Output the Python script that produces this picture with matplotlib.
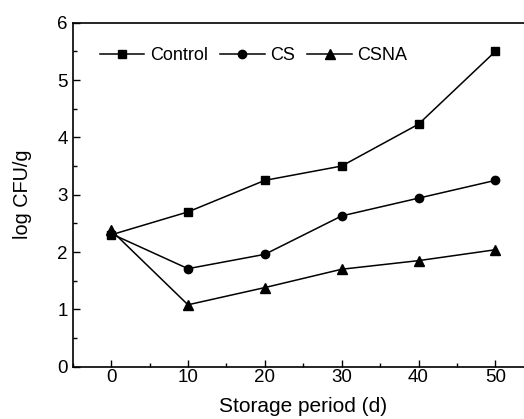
import numpy as np
import matplotlib.pyplot as plt
from matplotlib.ticker import MultipleLocator

plt.rcParams['font.family'] = ['Liberation Sans', 'DejaVu Sans']

days = [0, 10, 20, 30, 40, 50]
control = [2.30, 2.70, 3.25, 3.50, 4.23, 5.50]
cs = [2.32, 1.71, 1.96, 2.63, 2.94, 3.25]
csna = [2.38, 1.08, 1.38, 1.70, 1.85, 2.04]

fig = plt.figure(figsize=(5.24, 4.19), dpi=100)
ax = fig.add_axes([0.1387, 0.1248, 0.880, 0.821])

ax.plot(days, control, 'k-', marker='s', ms=6, lw=1.1, label='Control')
ax.plot(days, cs, 'k-', marker='o', ms=6, lw=1.1, label='CS')
ax.plot(days, csna, 'k-', marker='^', ms=7, lw=1.1, label='CSNA')

ax.set_xlim(-5, 55)
ax.set_ylim(0, 6)
ax.set_xticks(days)
ax.xaxis.set_minor_locator(MultipleLocator(5))
ax.yaxis.set_major_locator(MultipleLocator(1))
ax.yaxis.set_minor_locator(MultipleLocator(0.5))
ax.tick_params(which='both', direction='in', labelsize=13.5, width=1)
ax.tick_params(which='major', length=5)
ax.tick_params(which='minor', length=3)
ax.tick_params(axis='x', which='both', pad=1.5)
for s in ax.spines.values():
    s.set_linewidth(1.2)

ax.set_xlabel('Storage period (d)', fontsize=15, labelpad=8)
ax.set_ylabel('log CFU/g', fontsize=14.3, labelpad=18)

ax.legend(loc='upper left', ncol=3, frameon=False, fontsize=13,
          handlelength=2.45, handletextpad=0.3, columnspacing=0.7,
          bbox_to_anchor=(0.028, 0.97), borderaxespad=0.4)

fig.savefig('out.png', dpi=100)
